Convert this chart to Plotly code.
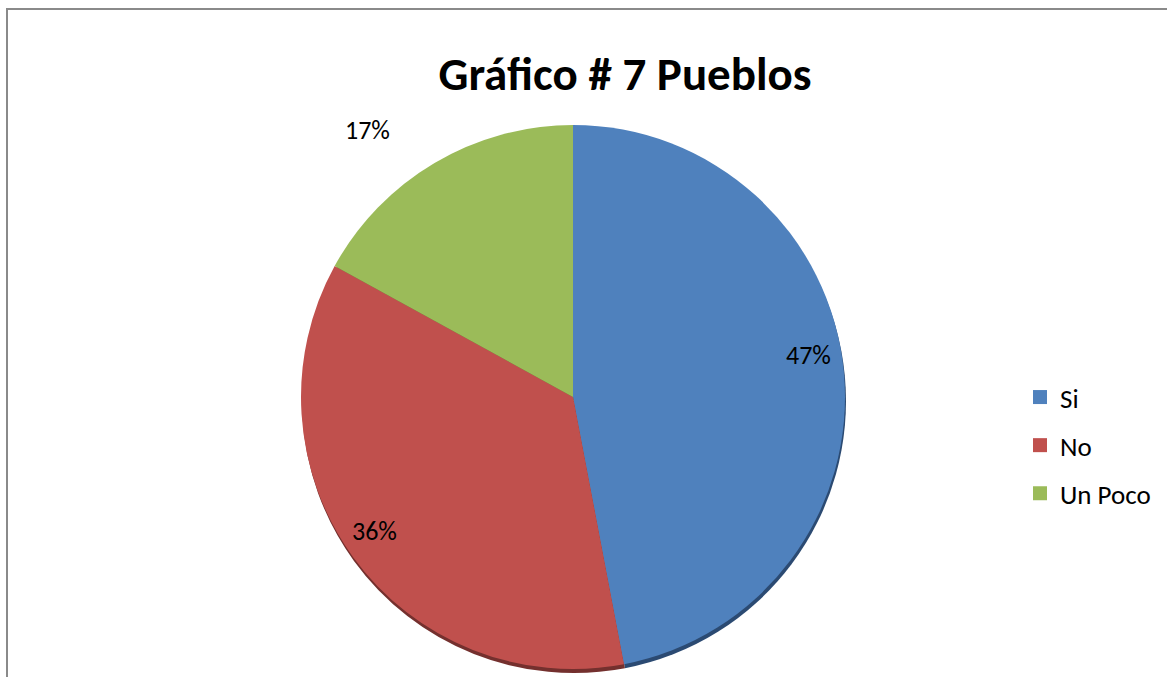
import math
import plotly.graph_objects as go

# Survey answers for chart #7
labels = ["Si", "No", "Un Poco"]
values = [47, 36, 17]
pct_text = ["47%", "36%", "17%"]

colors = ["#4F81BD", "#C0504D", "#9BBB59"]
shadow_colors = ["#2B4A72", "#74302E", "#5E7434"]

W, H = 1167, 677
CX, CY, R = 573, 397, 272          # pie centre and radius (px)
label_radius = [0.88, 0.88, 1.24]  # radial position of each percentage label
label_nudge = [-4.7, 1.9, -7.0]    # angular nudge of each label (deg)

FONT = "Carlito, Lato, sans-serif"


def domain(cx, cy, r):
    return dict(x=[(cx - r) / W, (cx + r) / W],
                y=[1 - (cy + r) / H, 1 - (cy - r) / H])


fig = go.Figure()

# soft drop shadow under the pie
fig.add_trace(go.Pie(
    labels=labels, values=values, sort=False, direction="clockwise",
    rotation=0, domain=domain(CX + 1, CY + 4, R),
    marker=dict(colors=shadow_colors, line=dict(width=0)),
    textinfo="none", hoverinfo="skip", showlegend=False,
))

fig.add_trace(go.Pie(
    labels=labels, values=values, sort=False, direction="clockwise",
    rotation=0, domain=domain(CX, CY, R),
    marker=dict(colors=colors, line=dict(width=0)),
    textinfo="none", showlegend=False,
))

# legend entries
for lab, col in zip(labels, colors):
    fig.add_trace(go.Scatter(
        x=[None], y=[None], mode="markers", name=lab, legendgroup=lab,
        marker=dict(symbol="square", size=14, color=col),
        showlegend=True,
    ))

# percentage labels placed along each slice's mid angle
total = sum(values)
annotations = []
start = 0.0
for v, txt, f, nudge in zip(values, pct_text, label_radius, label_nudge):
    mid = (start + v / 2) / total * 360 + nudge
    start += v
    th = math.radians(mid)
    px = CX + f * R * math.sin(th)
    py = CY - f * R * math.cos(th)
    annotations.append(dict(
        x=px / W, y=1 - py / H, xref="paper", yref="paper",
        text=txt, showarrow=False, xanchor="center", yanchor="middle",
        font=dict(family=FONT, size=26, color="#000000"),
    ))

fig.update_layout(
    width=W, height=H,
    margin=dict(l=0, r=0, t=0, b=0),
    paper_bgcolor="white", plot_bgcolor="white",
    title=dict(text="<b>Gráfico # 7 Pueblos</b>", x=625 / W, xref="paper",
               xanchor="center", y=1 - 74 / H, yref="paper", yanchor="middle",
               font=dict(family=FONT, size=47, color="#000000")),
    xaxis=dict(visible=False), yaxis=dict(visible=False),
    legend=dict(x=1020 / W, xanchor="left", y=1 - 373 / H, yanchor="top",
                font=dict(family=FONT, size=27, color="#000000"),
                tracegroupgap=10, bgcolor="rgba(0,0,0,0)"),
    annotations=annotations,
    shapes=[dict(type="rect", xref="paper", yref="paper",
                 x0=7 / W, y0=1 - 9 / H, x1=1.05, y1=-0.05,
                 line=dict(color="#8A8A8A", width=2), fillcolor="rgba(0,0,0,0)")],
    showlegend=True,
)

fig.write_html("out.html")
